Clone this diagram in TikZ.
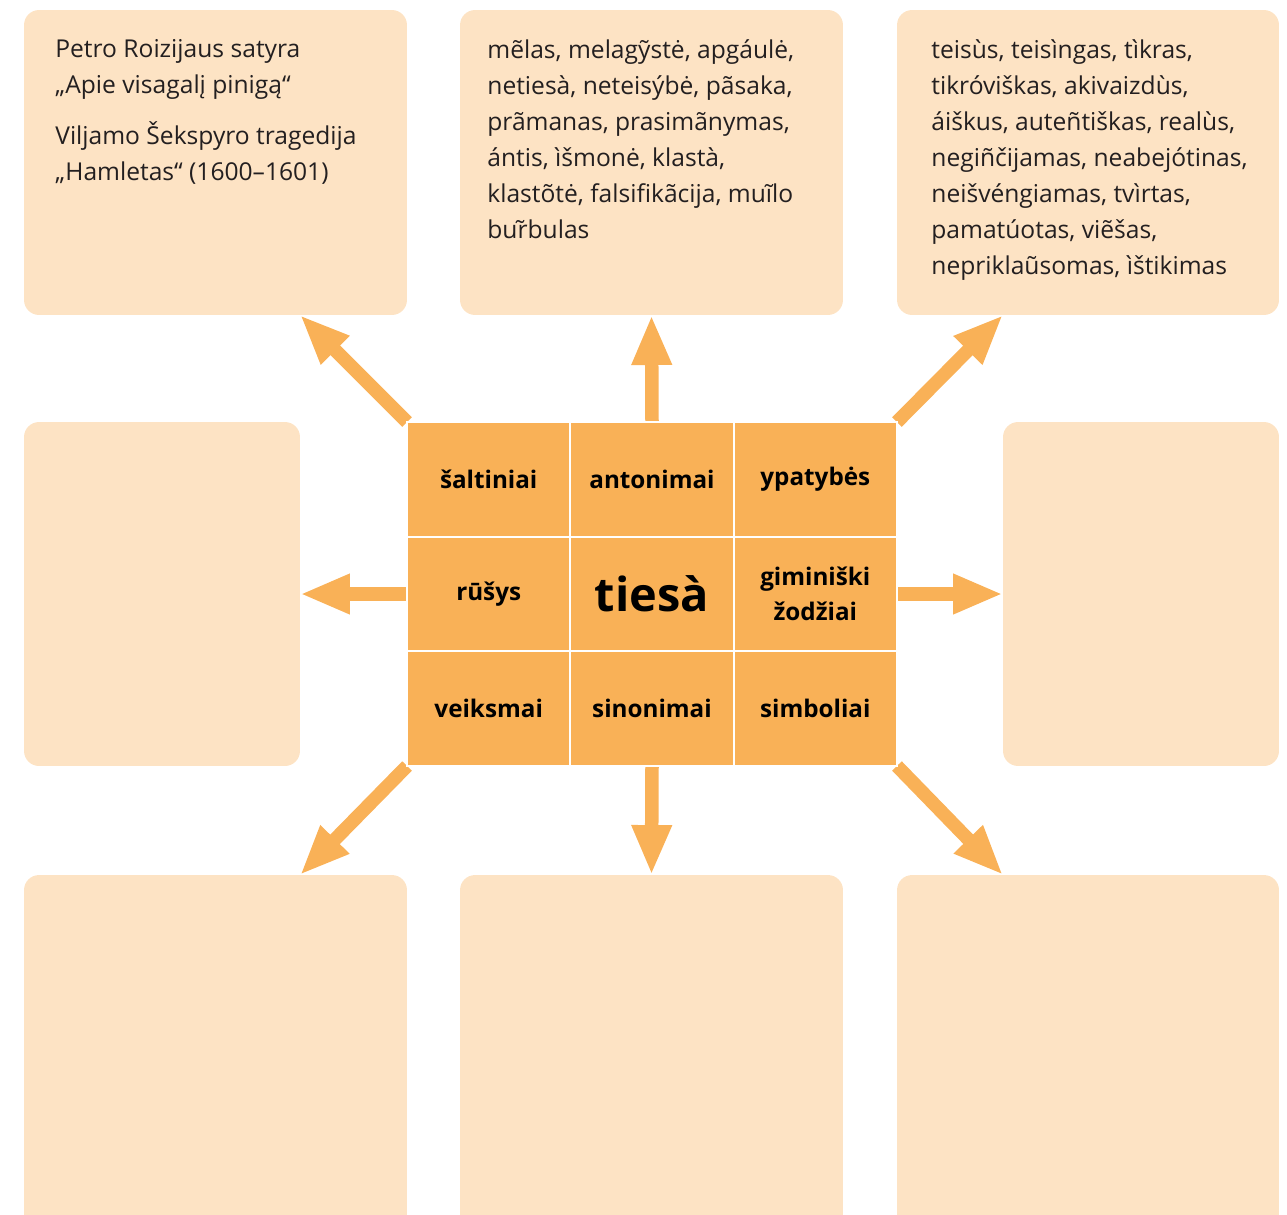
\documentclass[tikz,border=0pt]{standalone}
\usepackage{fontspec}
\setmainfont{Open Sans}
\usetikzlibrary{arrows.meta}
\definecolor{boxPeach}{HTML}{FDE3C4}
\definecolor{gridOrange}{HTML}{F9B157}
\definecolor{textDark}{HTML}{231F20}

\begin{document}
\begin{tikzpicture}
[x=0.02cm,y=-0.02cm,
  boxDecorate/.style={shape=rectangle,fill=boxPeach,rounded corners=0.3cm,inner sep=0pt,outer sep=0pt},
  cellDecorate/.style={shape=rectangle,fill=gridOrange,draw=white,line width=1.1pt,inner sep=0pt,outer sep=0pt,
    minimum width=3.2667cm,minimum height=2.2933cm,align=center,text=black,font=\bfseries\fontsize{13.8}{20}\selectfont},
  listDecorate/.style={anchor=north west,inner sep=0pt,align=left,text=textDark,font=\fontsize{14}{20.5}\selectfont},
  arrowDecorate/.style={-{Triangle[length=1cm,width=0.74cm]},line width=0.27cm,draw=gridOrange}]
\clip (0,0) rectangle (1287,1214);
%% boxes
\foreach \nodename/\x/\y/\w/\h in {
  boxTL/215.5/162.5/7.66/6.1,
  boxT/651.5/162.5/7.66/6.1,
  boxTR/1088/162.5/7.64/6.1,
  boxL/162/594/5.52/6.88,
  boxR/1141/594/5.52/6.88,
  boxBL/215.5/1057.5/7.66/7.3,
  boxB/651.5/1057.5/7.66/7.3,
  boxBR/1088/1057.5/7.64/7.3}
{
  \node (\nodename) at (\x,\y) [boxDecorate,minimum width=\w cm,minimum height=\h cm] {};
}
\node (grid) at (652,594) [shape=rectangle,inner sep=0pt,outer sep=0pt,minimum width=9.8cm,minimum height=6.88cm] {};
\coordinate (tipTL) at (boxTL.south east -| boxL.east);
\coordinate (tipTR) at (boxTR.south west -| boxR.west);
\coordinate (tipBL) at (boxBL.north east -| boxL.east);
\coordinate (tipBR) at (boxBR.north west -| boxR.west);
%% arrows
\path
\foreach \startnode/\endnode in {
  grid.north/boxT.south, grid.south/boxB.north, grid.west/boxL.east, grid.east/boxR.west,
  grid.north west/tipTL, grid.north east/tipTR, grid.south west/tipBL, grid.south east/tipBR}
{
  (\startnode) edge[arrowDecorate] (\endnode)
};
%% cells of the grid
\foreach \nodename/\x/\y/\label in {
  cellSal/488.7/479.3/šaltiniai,
  cellAnt/652/479.3/antonimai,
  cellYpa/815.3/479.3/ypatybės,
  cellRus/488.7/594/rūšys,
  cellTie/652/594/{\fontsize{26.7}{30}\selectfont tiesà},
  cellGim/815.3/594/{giminiški\\žodžiai},
  cellVei/488.7/708.7/veiksmai,
  cellSin/652/708.7/sinonimai,
  cellSim/815.3/708.7/simboliai}
{
  \node (\nodename) at (\x,\y) [cellDecorate] {\label};
}
%% texts
\node (txtTL) [listDecorate] at ([shift={(31,29)}]boxTL.north west)
  {Petro Roizijaus satyra\\„Apie visagalį pinigą“\\[0.3cm]Viljamo Šekspyro tragedija\\„Hamletas“ (1600–1601)};
\node (txtT) [listDecorate] at ([shift={(27,29)}]boxT.north west)
  {mẽlas, melagỹstė, apgáulė,\\netiesà, neteisýbė, pãsaka,\\prãmanas, prasimãnymas,\\ántis, ìšmonė, klastà,\\klastõtė, falsifikãcija, muĩlo\\bur̃bulas};
\node (txtTR) [listDecorate] at ([shift={(34,29)}]boxTR.north west)
  {teisùs, teisìngas, tìkras,\\tikróviškas, akivaizdùs,\\áiškus, auteñtiškas, realùs,\\negiñčijamas, neabejótinas,\\neišvéngiamas, tvìrtas,\\pamatúotas, viẽšas,\\nepriklaũsomas, ìštikimas};
\end{tikzpicture}
\end{document}
